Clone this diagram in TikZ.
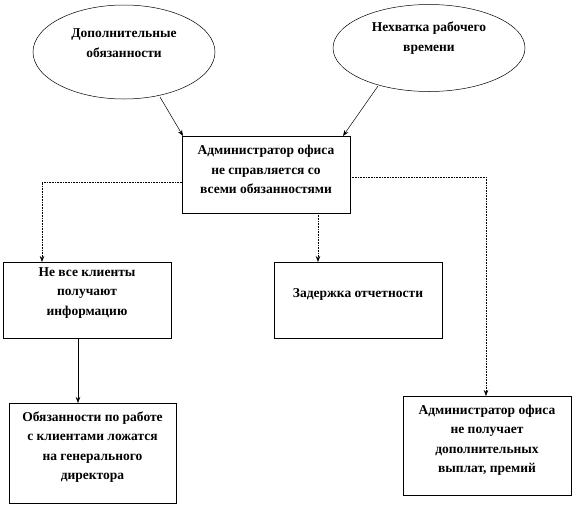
\documentclass[tikz,border=0pt]{standalone}
\usepackage{fontspec}
\setmainfont{Liberation Serif}
\usetikzlibrary{shapes.geometric,arrows.meta}
\begin{document}
\begin{tikzpicture}[x=1pt,y=-1pt,
  every node/.style={font=\fontsize{13.5}{19.5}\selectfont\bfseries, align=center, inner sep=0pt},
  oval/.style={draw, ellipse, line width=0.5pt},
  conn/.style={line width=0.5pt, -{Stealth[length=6pt,width=4.5pt]}},
  dconn/.style={line width=0.6pt, densely dotted, -{Stealth[length=6pt,width=4.5pt]}}]
\useasboundingbox (0,0) rectangle (573,507);
\node[oval, minimum width=182, minimum height=94] (e1) at (124,52) {};
\node (e1t) at (124,43) {Дополнительные\\обязанности};
\node[oval, minimum width=192, minimum height=87] (e2) at (429,48) {};
\node (e2t) at (429,38) {Нехватка рабочего\\времени};
\draw[line width=0.6pt] (182,136) rectangle (350,213);
\node (c) at (266,169.5) {Администратор офиса\\не справляется со\\всеми обязанностями};
\coordinate (cN1) at (183,136);
\coordinate (cN2) at (343,136);
\coordinate (cW) at (182,182);
\coordinate (cE) at (350,177);
\coordinate (cS) at (318,213);
\draw[line width=0.6pt] (3,262) rectangle (171,338);
\node (l) at (87,293) {Не все клиенты\\получают\\информацию};
\draw[line width=0.6pt] (274,262) rectangle (442,338);
\node (m) at (358,294) {Задержка отчетности};
\draw[line width=0.6pt] (9,403) rectangle (176,503);
\node (b1) at (92.5,447) {Обязанности по работе\\с клиентами ложатся\\на генерального\\директора};
\draw[line width=0.6pt] (403,396) rectangle (571,495);
\node (b2) at (487,440) {Администратор офиса\\не получает\\дополнительных\\выплат, премий};
\coordinate (lN) at (42,262);
\coordinate (lS) at (78,338);
\coordinate (b1N) at (78,403);
\coordinate (mN) at (318,262);
\coordinate (b2N) at (486,396);
\coordinate (e1S) at (160,97);
\coordinate (e2S) at (378,86);
\draw[conn] (e1S) -- (cN1);
\draw[conn] (e2S) -- (cN2);
\draw[dconn] (cW) -| (lN);
\draw[dconn] (cS) -- (mN);
\draw[dconn] (cE) -| (b2N);
\draw[conn] (lS) -- (b1N);
\end{tikzpicture}
\end{document}
